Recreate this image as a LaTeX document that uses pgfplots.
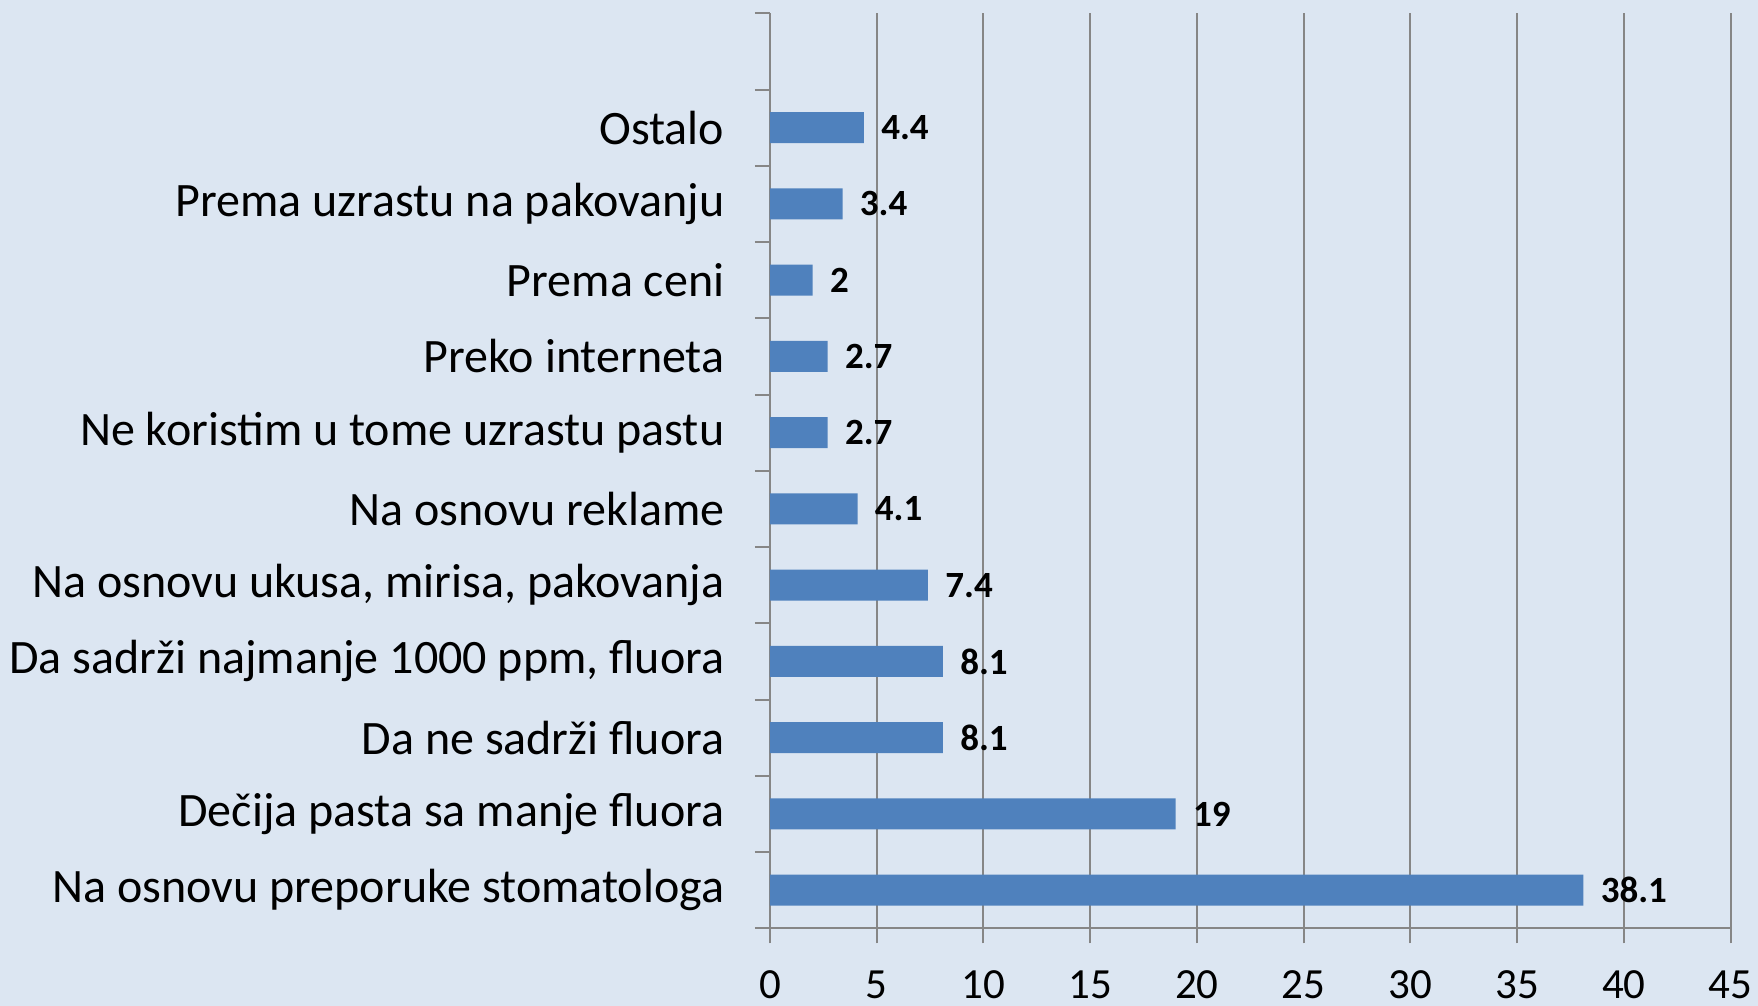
\documentclass[border=0pt]{standalone}
\usepackage{pgfplots}
\pgfplotsset{compat=1.18}
\usepackage{fontspec}
\setmainfont{Carlito}
\definecolor{bg}{RGB}{220,230,242}
\definecolor{barc}{RGB}{79,129,189}
\definecolor{gridc}{RGB}{134,134,134}
\begin{document}
\begin{tikzpicture}
\path[fill=bg, use as bounding box] (-385pt,-38.85pt) rectangle (494pt,464.15pt);
\begin{axis}[
  at={(0,0)}, anchor=south west,
  scale only axis, width=480.35pt, height=457.5pt,
  xbar, bar width=15.5pt,
  xmin=0, xmax=45, ymin=-0.5, ymax=11.5,
  axis lines=left,
  axis line style={-, draw=gridc, line width=1pt},
  xtick={0,5,...,45},
  xmajorgrids,
  major grid style={draw=gridc, line width=1pt},
  tick align=outside,
  major tick length=7.5pt, minor tick length=7.5pt,
  ytick={0,...,10},
  yticklabels={Na osnovu preporuke stomatologa, Dečija pasta sa manje fluora, Da ne sadrži fluora, {Da sadrži najmanje 1000 ppm, fluora}, {Na osnovu ukusa, mirisa, pakovanja}, Na osnovu reklame, Ne koristim u tome uzrastu pastu, Preko interneta, Prema ceni, Prema uzrastu na pakovanju, Ostalo},
  minor ytick={-0.5,0.5,...,11.5},
  major y tick style={draw=none},
  minor y tick style={draw=gridc, line width=1pt},
  x tick style={draw=gridc, line width=1pt},
  /pgf/number format/assume math mode=true,
  xticklabel style={font=\fontsize{21.5}{23}\selectfont, anchor=north, inner sep=0pt, yshift=-13.5pt},
  yticklabel style={font=\fontsize{24}{26}\selectfont, anchor=east, inner sep=0pt, xshift=-15.15pt},
  clip=false,
]
\addplot[fill=barc, draw=none, nodes near coords, point meta=explicit symbolic,
  nodes near coords style={font=\fontsize{18.5}{20}\selectfont\bfseries, anchor=west, inner sep=0pt, xshift=8.5pt}]
  coordinates {
  (38.1,0) [38.1]
  (19,1) [19]
  (8.1,2) [8.1]
  (8.1,3) [8.1]
  (7.4,4) [7.4]
  (4.1,5) [4.1]
  (2.7,6) [2.7]
  (2.7,7) [2.7]
  (2,8) [2]
  (3.4,9) [3.4]
  (4.4,10) [4.4]
  };
\end{axis}
\end{tikzpicture}
\end{document}
